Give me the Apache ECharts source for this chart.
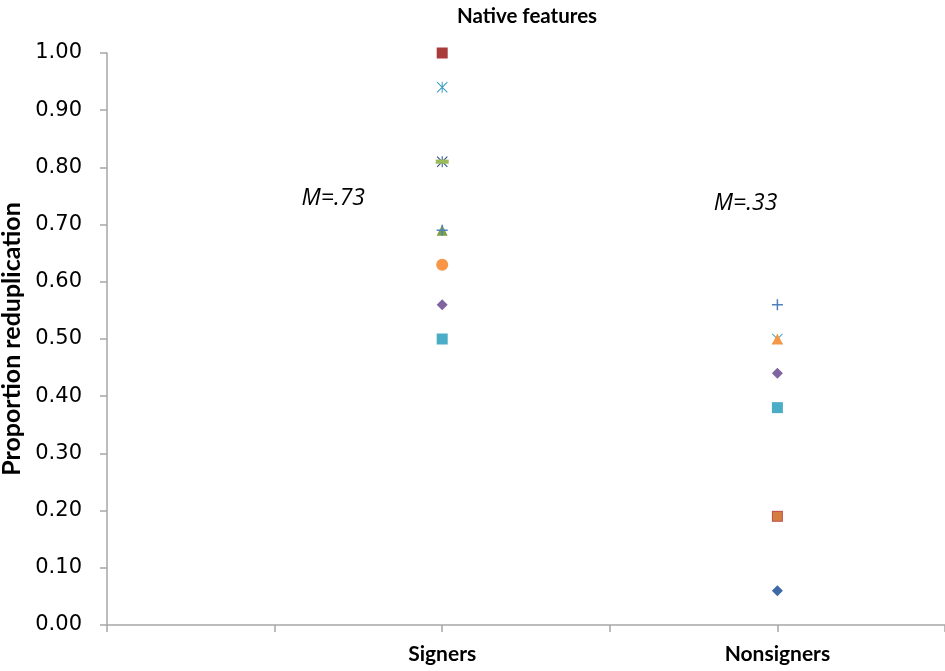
<!DOCTYPE html>
<html>
<head>
<meta charset="utf-8">
<script src="https://cdn.jsdelivr.net/npm/echarts@6/dist/echarts.min.js"></script>
<style>
html,body{margin:0;padding:0;background:#fff;}
#chart{width:945px;height:671px;}
</style>
</head>
<body>
<div id="chart"></div>
<script>
// ---- data ----
const title = 'Native features';
const yAxisName = 'Proportion reduplication';
const categories = ['Signers', 'Nonsigners'];
const categoryX = [2, 4];          // x-position of each group on the 0..5 axis
const xMax = 5;
const signersValues = [1.00, 0.94, 0.81, 0.81, 0.69, 0.69, 0.63, 0.56, 0.50];
const nonsignersValues = [0.56, 0.50, 0.50, 0.44, 0.38, 0.19, 0.19, 0.06];
const meanLabels = ['M=.73', 'M=.33'];
const meanLabelPos = [[1.35, 0.745], [3.81, 0.737]];

// ---- marker styles (kept separate from data) ----
const P = {
  plus: 'path://M9.5,0H12.5V9.5H22V12.5H12.5V22H9.5V12.5H0V9.5H9.5Z',
  x: 'path://M0,1.5L1.5,0L22,20.5L20.5,22ZM20.5,0L22,1.5L1.5,22L0,20.5Z',
  asterisk: 'path://M0,1.5L1.5,0L22,20.5L20.5,22ZM20.5,0L22,1.5L1.5,22L0,20.5ZM10,0H12V22H10Z',
  dash: 'path://M0,8H22V15H0Z'
};
const signerStyles = [
  {s: 'rect', c: '#A93B3B', z: 11},
  {s: P.asterisk, c: '#3C9CC2', z: 12},
  {s: P.asterisk, c: '#2C4D8A', z: 12},
  {s: P.dash, c: '#9BBB59', z: 11, size: 13},
  {s: 'triangle', c: '#7F9E3E', z: 12},
  {s: P.plus, c: '#4F81BD', z: 10},
  {s: 'circle', c: '#F79646', z: 11, size: 12},
  {s: 'diamond', c: '#8064A2', z: 11},
  {s: 'rect', c: '#4BACC6', z: 10}
];
const nonsignerStyles = [
  {s: P.plus, c: '#4F81BD', z: 11},
  {s: P.x, c: '#4BACC6', z: 12},
  {s: 'triangle', c: '#F79646', z: 11},
  {s: 'diamond', c: '#8064A2', z: 11},
  {s: 'rect', c: '#4BACC6', z: 11},
  {s: 'rect', c: '#C0504D', z: 12},
  {s: 'rect', c: '#D47E40', z: 11, size: 9},
  {s: 'diamond', c: '#3D69A6', z: 10}
];

const series = [];
function addGroup(values, styles, x) {
  values.forEach((v, i) => {
    const st = styles[i];
    series.push({
      type: 'scatter',
      data: [[x, v]],
      symbol: st.s,
      symbolSize: st.size || 11,
      symbolKeepAspect: true,
      z: 2 + (20 - st.z),
      itemStyle: {color: st.c, opacity: 1},
      emphasis: {disabled: true},
      animation: false
    });
  });
}
addGroup(signersValues, signerStyles, categoryX[0]);
addGroup(nonsignersValues, nonsignerStyles, categoryX[1]);

series.push({
  type: 'scatter',
  symbol: 'circle',
  symbolSize: 1,
  itemStyle: {opacity: 0},
  data: meanLabelPos.map((p, i) => ({value: p, label: {formatter: meanLabels[i]}})),
  label: {
    show: true, position: 'inside', color: '#000', opacity: 1,
    fontFamily: 'Open Sans', fontStyle: 'italic', fontSize: 23
  },
  silent: true, animation: false
});

const chart = echarts.init(document.getElementById('chart'), null, {renderer: 'canvas'});
chart.setOption({
  backgroundColor: '#fff',
  animation: false,
  title: {
    text: title, left: 522, top: 1, textAlign: 'center',
    textStyle: {fontFamily: 'Lato', fontWeight: 'bold', fontSize: 20.5, color: '#000'}
  },
  grid: {left: 107, right: 0, top: 53, bottom: 46, containLabel: false, outerBoundsMode: 'none'},
  xAxis: {
    type: 'value', min: 0, max: xMax, interval: 1,
    splitLine: {show: false},
    axisLine: {show: true, lineStyle: {color: '#A6A6A6', width: 1.5}},
    axisTick: {show: true, length: 7, lineStyle: {color: '#A6A6A6', width: 1.5}},
    axisLabel: {
      margin: 19, color: '#000', fontFamily: 'Lato', fontWeight: 'bold', fontSize: 21,
      formatter: v => { const k = categoryX.indexOf(v); return k >= 0 ? categories[k] : ''; }
    }
  },
  yAxis: {
    type: 'value', min: 0, max: 1, interval: 0.1,
    name: yAxisName, nameLocation: 'middle', nameGap: 81, nameRotate: 90,
    nameTextStyle: {fontFamily: 'Lato', fontWeight: 'bold', fontSize: 25, color: '#000'},
    splitLine: {show: false},
    axisLine: {show: true, lineStyle: {color: '#A6A6A6', width: 1.5}},
    axisTick: {show: true, length: 7, lineStyle: {color: '#A6A6A6', width: 1.5}},
    axisLabel: {
      margin: 25, color: '#000', fontFamily: 'DejaVu Sans', fontSize: 21,
      formatter: v => v.toFixed(2)
    }
  },
  series: series
});
</script>
</body>
</html>
